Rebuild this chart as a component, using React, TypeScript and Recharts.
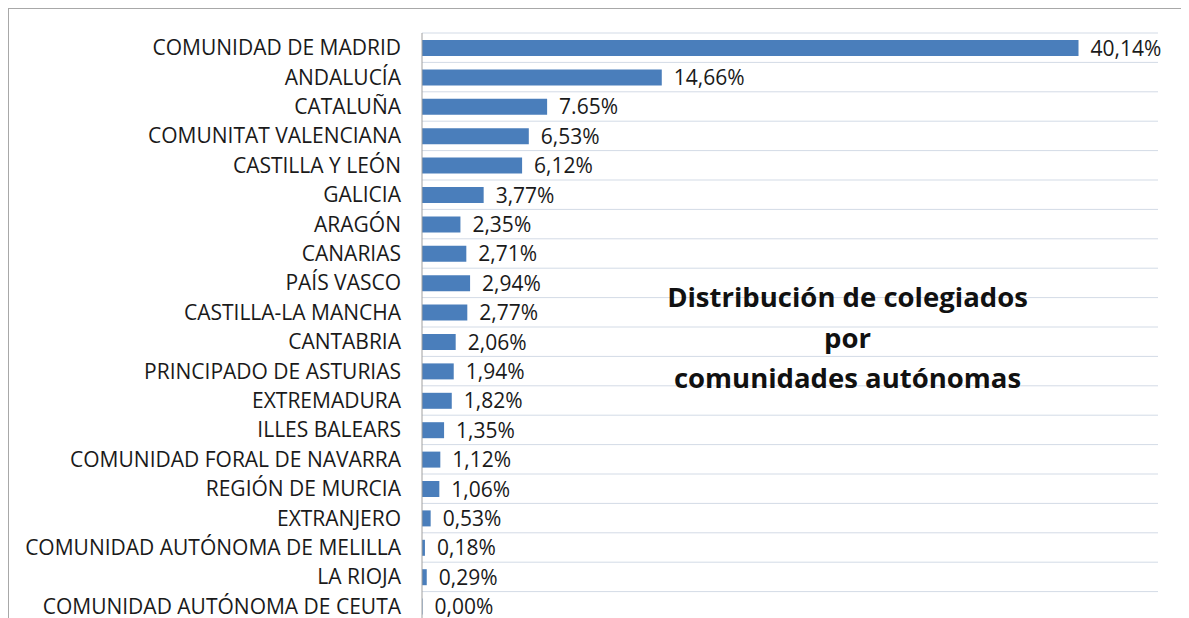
import React from 'react';
import { BarChart, Bar, XAxis, YAxis, CartesianGrid, LabelList } from 'recharts';

// Distribución de colegiados por comunidades autónomas (%)
const comunidades = [
  'COMUNIDAD DE MADRID',
  'ANDALUCÍA',
  'CATALUÑA',
  'COMUNITAT VALENCIANA',
  'CASTILLA Y LEÓN',
  'GALICIA',
  'ARAGÓN',
  'CANARIAS',
  'PAÍS VASCO',
  'CASTILLA-LA MANCHA',
  'CANTABRIA',
  'PRINCIPADO DE ASTURIAS',
  'EXTREMADURA',
  'ILLES BALEARS',
  'COMUNIDAD FORAL DE NAVARRA',
  'REGIÓN DE MURCIA',
  'EXTRANJERO',
  'COMUNIDAD AUTÓNOMA DE MELILLA',
  'LA RIOJA',
  'COMUNIDAD AUTÓNOMA DE CEUTA',
];

const porcentajes = [
  40.14, 14.66, 7.65, 6.53, 6.12, 3.77, 2.35, 2.71, 2.94, 2.77,
  2.06, 1.94, 1.82, 1.35, 1.12, 1.06, 0.53, 0.18, 0.29, 0.0,
];

// etiquetas tal cual aparecen (Cataluña lleva punto en el original)
const etiquetas = [
  '40,14%', '14,66%', '7.65%', '6,53%', '6,12%', '3,77%', '2,35%', '2,71%', '2,94%', '2,77%',
  '2,06%', '1,94%', '1,82%', '1,35%', '1,12%', '1,06%', '0,53%', '0,18%', '0,29%', '0,00%',
];

const tituloLineas = ['Distribución de colegiados', 'por', 'comunidades autónomas'];

const data = comunidades.map((name, i) => ({ name, valor: porcentajes[i], etiqueta: etiquetas[i] }));

const FONT = '"Open Sans", sans-serif';

const EtiquetaValor = (props: any) => {
  const { x, y, width, height, value } = props;
  return (
    <text x={Number(x) + Number(width || 0) + 12} y={Number(y) + Number(height) / 2} dy="0.36em" fill="#1a1a1a" fontSize={21} fontFamily={FONT}>
      {value}
    </text>
  );
};

export default function App() {
  return (
    <div style={{ position: 'relative', width: 1176, height: 610, overflow: 'hidden', border: '1px solid #a8a8a8', borderBottom: 'none', boxSizing: 'border-box', background: '#fff', fontFamily: FONT }}>
      <BarChart
        width={1174}
        height={640}
        data={data}
        layout="vertical"
        margin={{ top: 24, right: 25, bottom: 28, left: 0 }}
        barSize={16}
      >
        <CartesianGrid
          vertical={false}
          stroke="#d3dbe6"
          horizontalCoordinatesGenerator={({ offset }: any) =>
            comunidades.map((_, i) => offset.top + (i * offset.height) / comunidades.length).concat(offset.top + offset.height)
          }
        />
        <XAxis type="number" domain={[0, 45]} hide />
        <Bar dataKey="valor" fill="#4a7ebb" minPointSize={0.5} isAnimationActive={false}>
          <LabelList dataKey="etiqueta" content={EtiquetaValor} />
        </Bar>
        <YAxis
          type="category"
          dataKey="name"
          width={413}
          axisLine={{ stroke: '#a0a0a0' }}
          tickLine={false}
          tickSize={0}
          tickMargin={21}
          interval={0}
          tick={{ fill: '#1a1a1a', fontSize: 21, fontFamily: FONT }}
        />
      </BarChart>
      <div style={{ position: 'absolute', left: 550, top: 268, width: 577, textAlign: 'center', fontWeight: 'bold', fontSize: 27.5, lineHeight: '40.5px', color: '#111' }}>
        {tituloLineas.map((l) => (
          <div key={l}>{l}</div>
        ))}
      </div>
    </div>
  );
}
